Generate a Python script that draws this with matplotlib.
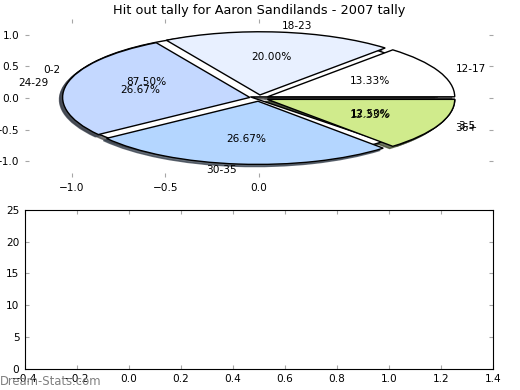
import matplotlib
matplotlib.use('Agg')
import matplotlib.pyplot as plt

plt.rcParams['font.family'] = 'DejaVu Sans'
plt.rcParams['font.size'] = 7.6

# first pie (hidden underneath)
labels_a = ['0-2', '3-5']
values_a = [7, 1]
colors_a = ['#ffffff', '#e8f0ff']
explode_a = [0.05, 0.05]

# second pie, hit outs per game
labels_b = ['12-17', '18-23', '24-29', '30-35', '36+']
values_b = [2, 3, 4, 4, 2]
colors_b = ['#ffffff', '#e8f0ff', '#c4d8ff', '#b4d6ff', '#d0eb8c']
explode_b = [0.05, 0.05, 0.05, 0.05, 0.05]

shadow = {'ox': -0.012, 'oy': -0.025, 'alpha': 0.75}
wedge = {'linewidth': 1, 'edgecolor': 'black'}

fig = plt.figure(figsize=(5.2, 3.9), dpi=100)

ax1 = fig.add_axes([0.048, 0.546, 0.9, 0.405])
ax1.pie(values_a, labels=labels_a, colors=colors_a, autopct='%1.2f%%',
        explode=explode_a, shadow=shadow, wedgeprops=wedge)
ax1.pie(values_b, labels=labels_b, colors=colors_b, autopct='%1.2f%%',
        explode=explode_b, shadow=shadow, wedgeprops=wedge)
ax1.set_aspect('auto')
ax1.set_frame_on(False)
ax1.set_xlim(-1.25, 1.25)
ax1.set_ylim(-1.25, 1.25)
ax1.set_xticks([-1.0, -0.5, 0.0])
ax1.set_yticks([-1.0, -0.5, 0.0, 0.5, 1.0])
ax1.tick_params(direction='in', top=True, right=True, length=3,
                color='0.65', pad=4)
ax1.set_title('Hit out tally for Aaron Sandilands - 2007 tally',
              fontsize=9.3, pad=4)

ax2 = fig.add_axes([0.048, 0.054, 0.9, 0.408])
ax2.set_xlim(-0.4, 1.4)
ax2.set_ylim(0, 25)
ax2.set_xticks([-0.4, -0.2, 0.0, 0.2, 0.4, 0.6, 0.8, 1.0, 1.2, 1.4])
ax2.set_yticks([0, 5, 10, 15, 20, 25])
ax2.tick_params(direction='in', top=True, right=True, length=3,
                color='0.65', pad=4)

fig.text(0.0, 0.014, 'Dream-Stats.com', color='0.5', fontsize=8.4)

fig.savefig('out.png', dpi=100)
